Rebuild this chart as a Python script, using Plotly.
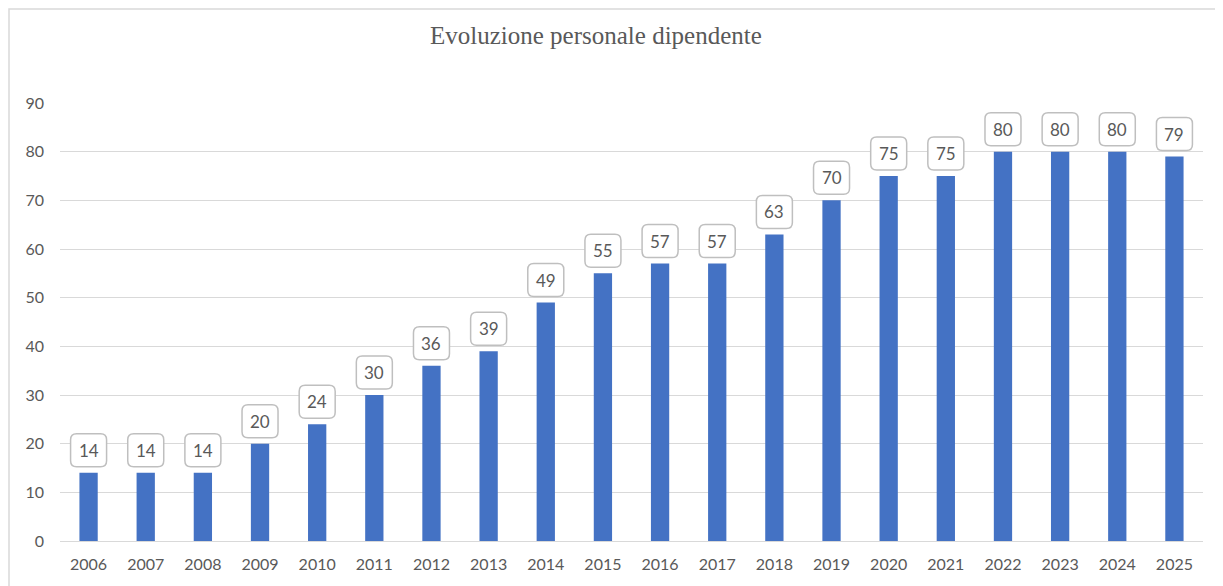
import plotly.graph_objects as go

# data
years = [str(y) for y in range(2006, 2026)]
staff = [14, 14, 14, 20, 24, 30, 36, 39, 49, 55, 57, 57, 63, 70, 75, 75, 80, 80, 80, 79]
y_ticks = [0, 10, 20, 30, 40, 50, 60, 70, 80, 90]

title_text = "Evoluzione personale dipendente"

# the page body adds an 8px margin, so the figure is shifted by that much;
# the figure is kept full size so the frame runs to the window edges
OFF = 8
W, H = 1223, 586
ML, MT = 60 - OFF, 103 - OFF
MR = W - (1203 - OFF)
MB = H - (541 - OFF)
plot_w = W - ML - MR
plot_h = H - MT - MB

bar_color = "#4472C4"
text_grey = "#595959"
grid_grey = "#D9D9D9"
box_grey = "#BFBFBF"
font_main = "Lato, 'Open Sans', sans-serif"


def px_x(px):
    # page pixel -> paper coordinate
    return (px - OFF - ML) / plot_w


def px_y(py):
    return (H - MB - (py - OFF)) / plot_h


def rounded_box(x0, x1, y0, y1, r):
    # rounded rectangle in pixel units relative to the anchor point
    return (f"M {x0 + r},{y0} L {x1 - r},{y0} Q {x1},{y0} {x1},{y0 + r} "
            f"L {x1},{y1 - r} Q {x1},{y1} {x1 - r},{y1} "
            f"L {x0 + r},{y1} Q {x0},{y1} {x0},{y1 - r} "
            f"L {x0},{y0 + r} Q {x0},{y0} {x0 + r},{y0} Z")


xs = list(range(len(years)))

fig = go.Figure()
fig.add_trace(go.Bar(
    x=xs, y=staff, width=0.32,
    marker=dict(color=bar_color, line=dict(width=0)),
    hoverinfo="skip",
))

box_path = rounded_box(-18, 18, 6, 39, 6)
for i, v in zip(xs, staff):
    fig.add_shape(
        type="path", path=box_path,
        xref="x", yref="y", xsizemode="pixel", ysizemode="pixel",
        xanchor=i, yanchor=v,
        fillcolor="white", line=dict(color=box_grey, width=1.5),
        layer="above",
    )
    fig.add_annotation(
        x=i, y=v, text=str(v), showarrow=False,
        yanchor="middle", yshift=22.5,
        font=dict(family=font_main, size=17, color=text_grey),
    )

# outer chart frame (runs past the window on the right and bottom)
fig.add_shape(
    type="rect", xref="paper", yref="paper",
    x0=px_x(9), x1=px_x(1300), y0=px_y(660), y1=px_y(9),
    line=dict(color=grid_grey, width=1.5), fillcolor="rgba(0,0,0,0)",
    layer="below",
)

# title
fig.add_annotation(
    xref="paper", yref="paper", x=px_x(596), y=px_y(36),
    text=title_text, showarrow=False, xanchor="center", yanchor="middle",
    font=dict(family="'Liberation Serif', serif", size=25, color=text_grey),
)

fig.update_layout(
    width=W, height=H,
    margin=dict(l=ML, r=MR, t=MT, b=MB),
    paper_bgcolor="white", plot_bgcolor="white",
    showlegend=False,
    font=dict(family=font_main, color=text_grey),
)
fig.update_xaxes(
    range=[-0.5, len(years) - 0.5],
    tickmode="array", tickvals=xs, ticktext=years,
    showgrid=False, zeroline=False, showline=False,
    ticks="", ticklabelstandoff=12,
    tickfont=dict(size=16, color=text_grey),
)
fig.update_yaxes(
    range=[0, 90], tickmode="array", tickvals=y_ticks,
    showgrid=True, gridcolor=grid_grey, gridwidth=1.3,
    zeroline=True, zerolinecolor=grid_grey, zerolinewidth=1.3,
    showline=False, ticks="", ticklabelstandoff=15,
    tickfont=dict(size=16, color=text_grey),
)

fig.write_html("out.html")
